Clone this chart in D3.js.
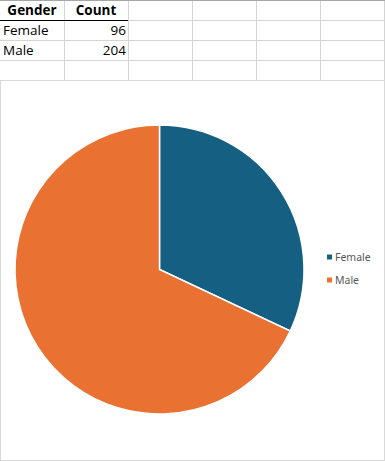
<!DOCTYPE html>
<html>
<head>
<meta charset="utf-8">
<script src="https://cdn.jsdelivr.net/npm/d3@7"></script>
<style>
  body { margin: 0; background: #fff; }
  svg { display: block; }
</style>
</head>
<body>
<svg id="sheet"></svg>
<script>
const headers = ["Gender", "Count"];
const genders = ["Female", "Male"];
const counts = [96, 204];
const colors = ["#156082", "#E97132"];

const width = 385;
const height = 461;
const colW = 64;
const rowH = 20;

const svg = d3.select("#sheet")
              .attr("width", width)
              .attr("height", height);

// spreadsheet grid
const colX = d3.scaleLinear().domain([0, 6]).range([0, 6 * colW]);
const rowY = d3.scaleLinear().domain([0, 4]).range([0, 4 * rowH]);

svg.selectAll(".vline")
   .data(d3.range(1, 7))
   .enter()
   .append("line")
   .attr("x1", d => colX(d) + 0.5)
   .attr("x2", d => colX(d) + 0.5)
   .attr("y1", 0)
   .attr("y2", rowY(4))
   .attr("stroke", "#d4d4d4");

svg.selectAll(".hline")
   .data(d3.range(1, 5))
   .enter()
   .append("line")
   .attr("x1", 0)
   .attr("x2", width)
   .attr("y1", d => rowY(d) + 0.5)
   .attr("y2", d => rowY(d) + 0.5)
   .attr("stroke", "#d4d4d4");

svg.append("line")
   .attr("x1", 0).attr("x2", width)
   .attr("y1", 0.5).attr("y2", 0.5)
   .attr("stroke", "#a6a6a6");

// header underline
svg.append("line")
   .attr("x1", 0).attr("x2", colX(2))
   .attr("y1", rowY(1) + 0.5).attr("y2", rowY(1) + 0.5)
   .attr("stroke", "#000");

const cellFont = "'Open Sans', sans-serif";

svg.selectAll(".head")
   .data(headers)
   .enter()
   .append("text")
   .attr("x", (d, i) => colX(i) + colW / 2)
   .attr("y", rowY(1) - 5)
   .attr("text-anchor", "middle")
   .attr("font-family", cellFont)
   .attr("font-weight", "bold")
   .attr("font-size", 13.5)
   .text(d => d);

svg.selectAll(".name")
   .data(genders)
   .enter()
   .append("text")
   .attr("x", 3)
   .attr("y", (d, i) => rowY(i + 2) - 5)
   .attr("font-family", cellFont)
   .attr("font-size", 13.5)
   .text(d => d);

svg.selectAll(".count")
   .data(counts)
   .enter()
   .append("text")
   .attr("x", colX(2) - 2)
   .attr("y", (d, i) => rowY(i + 2) - 5)
   .attr("text-anchor", "end")
   .attr("font-family", cellFont)
   .attr("font-size", 13.5)
   .text(d => d);

// chart area
const chart = svg.append("g").attr("transform", "translate(0,80)");
chart.append("rect")
     .attr("x", 0.5).attr("y", 0.5)
     .attr("width", 384).attr("height", 380)
     .attr("fill", "#fff")
     .attr("stroke", "#d9d9d9");

const radius = 144.5;
const pie = d3.pie().sort(null);
const arc = d3.arc().innerRadius(0).outerRadius(radius);
const color = d3.scaleOrdinal().domain(genders).range(colors);

chart.append("g")
     .attr("transform", "translate(159.5,189.5)")
     .selectAll("path")
     .data(pie(counts))
     .enter()
     .append("path")
     .attr("d", arc)
     .attr("fill", (d, i) => color(genders[i]))
     .attr("stroke", "#fff")
     .attr("stroke-width", 1.5);

const legend = chart.selectAll(".legend")
                    .data(genders)
                    .enter()
                    .append("g")
                    .attr("transform", (d, i) => `translate(327,${177 + i * 23})`);

legend.append("rect")
      .attr("x", 0).attr("y", -2.5)
      .attr("width", 5).attr("height", 5)
      .attr("fill", d => color(d));

legend.append("text")
      .attr("x", 8)
      .attr("y", 0)
      .attr("dy", "0.35em")
      .attr("font-family", "'Noto Sans', sans-serif")
      .attr("font-size", 10.5)
      .attr("fill", "#595959")
      .text(d => d);
</script>
</body>
</html>
